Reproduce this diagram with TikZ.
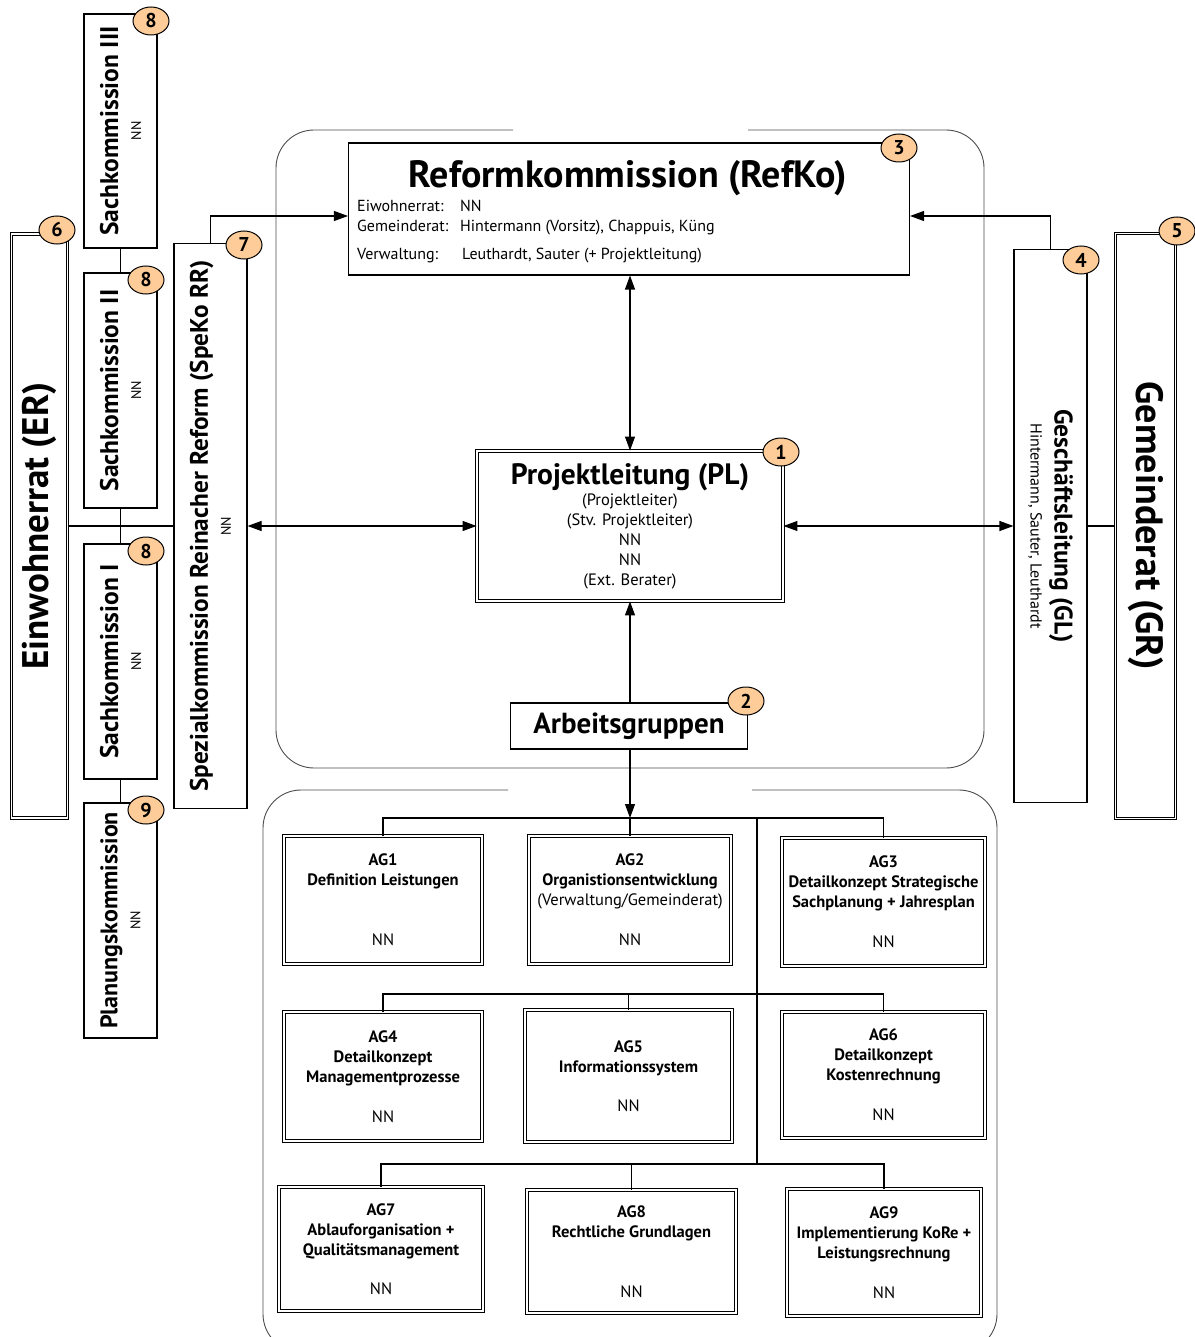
\documentclass[tikz,border=0pt]{standalone}
\usepackage{fontspec}
\setmainfont{PT Sans}
\usetikzlibrary{arrows.meta,shapes.geometric}
\definecolor{badgefill}{RGB}{253,204,153}
\newcommand{\vtitle}{\bfseries\fontsize{25.5}{23}\selectfont}
\tikzset{
  box/.style={draw, line width=1.1pt, inner sep=0pt},
  dbox/.style={draw, double, double distance=1.8pt, line width=0.9pt, inner sep=0pt},
  badge/.style={ellipse, draw, line width=1pt, fill=badgefill, minimum width=36pt, minimum height=28pt, inner sep=0pt, font=\bfseries\fontsize{20}{20}\selectfont},
  link/.style={line width=1.1pt},
  frame/.style={line width=0.9pt, black!70, rounded corners=38pt},
  vlabel/.style={align=center, font=\fontsize{14}{23}\selectfont},
  agbox/.style={dbox, align=center, font=\bfseries\fontsize{16.5}{20}\selectfont},
  info/.style={anchor=base west, inner sep=0pt, font=\fontsize{16}{18}\selectfont},
  >={Triangle[length=14pt,width=10pt]},
}

\begin{document}
\begin{tikzpicture}[x=1pt,y=-1pt]
\useasboundingbox (0,0) rectangle (1194,1337);

% frames
\draw[frame] (513,130) -- (276,130) -- (276,768) -- (984,768) -- (984,130) -- (748,130);
\draw[frame] (508,790) -- (263,790) -- (263,1352) -- (997,1352) -- (997,790) -- (752,790);

% Reformkommission
\node[box, minimum width=561pt, minimum height=132pt] (refko) at (629,209) {};
\node[anchor=base, font=\bfseries\fontsize{38}{40}\selectfont] (refkotitle) at (628,188) {Reformkommission (RefKo)};
\node[info] (er1) at (357,212) {Eiwohnerrat:};
\node[info] (gr1) at (357,232) {Gemeinderat:};
\node[info] (vw1) at (357,260) {Verwaltung:};
\node[info] (er2) at (460,212) {NN};
\node[info] (gr2) at (460,232) {Hintermann (Vorsitz), Chappuis, Küng};
\node[info] (vw2) at (462,260) {Leuthardt, Sauter (+ Projektleitung)};

% Projektleitung, Arbeitsgruppen
\node[dbox, minimum width=306pt, minimum height=150pt, align=center, font=\fontsize{16.5}{20}\selectfont] (pl) at (630,526)
  {{\bfseries\fontsize{29.5}{29}\selectfont Projektleitung (PL)}\\[1pt](Projektleiter)\\(Stv. Projektleiter)\\NN\\NN\\(Ext. Berater)};
\node[box, minimum width=237pt, minimum height=46pt, font=\bfseries\fontsize{29}{30}\selectfont] (ag) at (629,726) {Arbeitsgruppen};

% left side
\node[dbox, rotate=90, minimum width=584pt, minimum height=56pt, font=\bfseries\fontsize{37}{37}\selectfont] (er) at (39.5,526) {Einwohnerrat (ER)};
\node[box, rotate=90, minimum width=234pt, minimum height=73pt, vlabel] (sk3) at (120.5,131)
  {{\vtitle Sachkommission III}\\NN};
\node[box, rotate=90, minimum width=235pt, minimum height=73pt, vlabel] (sk2) at (120.5,390.5)
  {{\vtitle Sachkommission II}\\NN};
\node[box, rotate=90, minimum width=235pt, minimum height=73pt, vlabel] (sk1) at (120.5,661.5)
  {{\vtitle Sachkommission I}\\NN};
\node[box, rotate=90, minimum width=235pt, minimum height=73pt, vlabel] (plk) at (120.5,920.5)
  {{\bfseries\fontsize{24}{23}\selectfont Planungskommission}\\NN};
\node[box, rotate=90, minimum width=565pt, minimum height=73pt, vlabel] (speko) at (210.5,526)
  {{\bfseries\fontsize{25.3}{23}\selectfont Spezialkommission Reinacher Reform (SpeKo RR)}\\NN};

% right side
\node[box, rotate=-90, minimum width=553pt, minimum height=73pt, align=center, font=\fontsize{16}{24}\selectfont] (gl) at (1050.5,526)
  {{\bfseries\fontsize{25.5}{24}\selectfont Geschäftsleitung (GL)}\\Hintermann, Sauter, Leuthardt};
\node[dbox, rotate=-90, minimum width=585pt, minimum height=60pt, font=\bfseries\fontsize{38}{38}\selectfont] (gr) at (1145.5,526) {Gemeinderat (GR)};

% Arbeitsgruppen
\node[agbox, minimum width=198pt, minimum height=128pt] (ag1) at (383,900) {AG1\\Definition Leistungen\\[40pt]{\mdseries NN}};
\node[agbox, minimum width=202pt, minimum height=128pt] (ag2) at (630,900) {AG2\\Organistionsentwicklung\\{\mdseries (Verwaltung/Gemeinderat)}\\[20pt]{\mdseries NN}};
\node[agbox, minimum width=203pt, minimum height=128pt] (ag3) at (883.5,902) {AG3\\Detailkonzept Strategische\\Sachplanung + Jahresplan\\[20pt]{\mdseries NN}};
\node[agbox, minimum width=198pt, minimum height=129pt] (ag4) at (383,1076.5) {AG4\\Detailkonzept\\Managementprozesse\\[20pt]{\mdseries NN}};
\node[agbox, minimum width=207pt, minimum height=132pt] (ag5) at (628.5,1076) {AG5\\Informationssystem\\[19pt]{\mdseries NN}};
\node[agbox, minimum width=203pt, minimum height=126pt] (ag6) at (883.5,1075) {AG6\\Detailkonzept\\Kostenrechnung\\[20pt]{\mdseries NN}};
\node[agbox, minimum width=204pt, minimum height=124pt] (ag7) at (381,1249) {AG7\\Ablauforganisation +\\Qualitätsmanagement\\[19pt]{\mdseries NN}};
\node[agbox, minimum width=209pt, minimum height=123pt] (ag8) at (631.5,1251.5) {AG8\\Rechtliche Grundlagen\\[40pt]{\mdseries NN}};
\node[agbox, minimum width=194pt, minimum height=127pt] (ag9) at (884,1252.5) {AG9\\Implementierung KoRe +\\Leistungsrechnung\\[20pt]{\mdseries NN}};

% connectors
\draw[link, <->] (refko.south -| pl.north) -- (pl.north);
\draw[link, ->] (ag.north -| pl.south) -- (pl.south);
\draw[link, <->] (speko.south) -- (pl.west);
\draw[link, <->] (pl.east) -- (gl.south);
\draw[link, ->] (speko.east) |- ([yshift=-7pt]refko.west);
\draw[link, ->] (gl.west) |- ([yshift=-7pt]refko.east);
\draw[link] (er.south) -- (speko.north);
\draw[link] (gl.north) -- (gr.south);
\draw[link] (sk3.west) -- (sk2.east);
\draw[link] (sk2.west) -- (sk1.east);
\draw[link] (sk1.west) -- (plk.east);

\coordinate (j1) at (630,818);
\coordinate (j2) at (757,994);
\coordinate (j3) at (757,1164);
\draw[link, ->] (ag.south -| j1) -- (j1);
\draw[link] (ag1.north) |- (j1) -| (ag3.north);
\draw[link] (j1) -- (ag2.north);
\draw[link] (j1 -| j2) -- (j3);
\draw[link] (ag4.north) |- (j2) -| (ag6.north);
\draw[link] (ag5.north) -- (ag5.north |- j2);
\draw[link] (ag7.north) |- (j3) -| (ag9.north);
\draw[link] (ag8.north) -- (ag8.north |- j3);

% badges
\node[badge] (n1) at (781,452) {1};
\node[badge] (n2) at (746,701) {2};
\node[badge] (n3) at (899,148) {3};
\node[badge] (n4) at (1081,260) {4};
\node[badge] (n5) at (1177,231) {5};
\node[badge] (n6) at (57,230) {6};
\node[badge] (n7) at (244,245) {7};
\node[badge] (n8c) at (151,21) {8};
\node[badge] (n8b) at (146,280) {8};
\node[badge] (n8a) at (146,551) {8};
\node[badge] (n9) at (146,810) {9};
\end{tikzpicture}
\end{document}
